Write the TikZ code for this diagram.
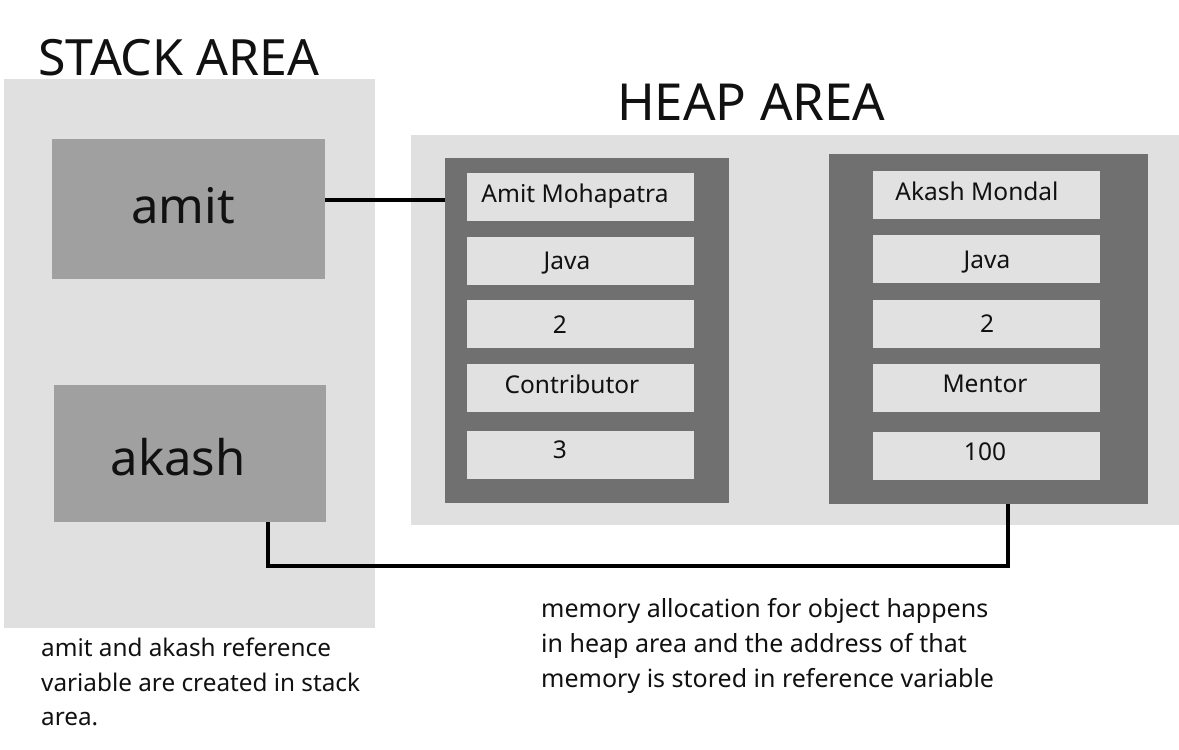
\documentclass[tikz,border=0pt]{standalone}
\usepackage{fontspec}
\setmainfont{Noto Sans}
\definecolor{areabg}{HTML}{E0E0E0}
\definecolor{varbox}{HTML}{A0A0A0}
\definecolor{objbox}{HTML}{707070}
\definecolor{fieldbg}{HTML}{E1E1E1}
\definecolor{ink}{HTML}{111111}
\begin{document}
\begin{tikzpicture}[x=1pt,y=-1pt,
  area/.style={fill=areabg,draw=none,anchor=north west,inner sep=0pt},
  var/.style={fill=varbox,draw=none,anchor=north west,inner sep=0pt},
  obj/.style={fill=objbox,draw=none,anchor=north west,inner sep=0pt},
  field/.style={fill=fieldbg,draw=none,anchor=north west,inner sep=0pt,minimum width=227pt,minimum height=48pt},
  title/.style={anchor=base west,inner sep=0pt,text=ink},
  varlabel/.style={anchor=base,inner sep=0pt,text=ink,font=\fontsize{49}{58}\selectfont},
  flabel/.style={anchor=base,inner sep=0pt,text=ink,font=\fontsize{24.5}{29}\selectfont},
  note/.style={anchor=base west,inner sep=0pt,text=ink},
  conn/.style={draw=black,line width=4pt}]
\useasboundingbox[fill=white] (0,0) rectangle (1179,750);
% areas
\node[area,minimum width=371pt,minimum height=549pt] (stack) at (4,79) {};
\node[area,minimum width=768pt,minimum height=390pt] (heap) at (411,135) {};
\node[title,font=\fontsize{50}{58}\selectfont] (stacktitle) at (38,75) {STACK AREA};
\node[title,font=\fontsize{51}{58}\selectfont] (heaptitle) at (617,120) {HEAP AREA};
% reference variables
\node[var,minimum width=273pt,minimum height=140pt] (amit) at (52,139) {};
\node[var,minimum width=272pt,minimum height=137pt] (akash) at (54,385) {};
\node[varlabel] (amitlbl) at (183,223) {amit};
\node[varlabel] (akashlbl) at (178,475) {akash};
% object 1
\node[obj,minimum width=284pt,minimum height=345pt] (obja) at (445,158) {};
\node[field] (a1) at (467,173) {};
\node[field] (a2) at (467,237) {};
\node[field] (a3) at (467,300) {};
\node[field] (a4) at (467,364) {};
\node[field] (a5) at (467,431) {};
\node[flabel] (a1t) at (575,202) {Amit Mohapatra};
\node[flabel] (a2t) at (567,269) {Java};
\node[flabel] (a3t) at (560,333) {2};
\node[flabel] (a4t) at (572,393) {Contributor};
\node[flabel] (a5t) at (560,458) {3};
% object 2
\node[obj,minimum width=319pt,minimum height=350pt] (objb) at (829,154) {};
\node[field] (b1) at (873,171) {};
\node[field] (b2) at (873,235) {};
\node[field] (b3) at (873,300) {};
\node[field] (b4) at (873,364) {};
\node[field] (b5) at (873,432) {};
\node[flabel] (b1t) at (977,200) {Akash Mondal};
\node[flabel] (b2t) at (987,268) {Java};
\node[flabel] (b3t) at (987,332) {2};
\node[flabel] (b4t) at (985,392) {Mentor};
\node[flabel] (b5t) at (985,460) {100};
% connectors
\draw[conn] ([yshift=9pt]amit.east) -- ([yshift=9pt]amit.east -| obja.west);
\coordinate (k1) at (268,566);
\coordinate (k2) at (1008,566);
\draw[conn,line join=miter] (akash.south -| k1) -- (k1) -- (k2) -- (objb.south -| k2);
% notes
\node[note,font=\fontsize{25}{30}\selectfont] (n1) at (541,617) {memory allocation for object happens};
\node[note,font=\fontsize{25}{30}\selectfont] (n2) at (541,652) {in heap area and the address of that};
\node[note,font=\fontsize{25}{30}\selectfont] (n3) at (541,687) {memory is stored in reference variable};
\node[note,font=\fontsize{24.3}{29}\selectfont] (m1) at (41,656) {amit and akash reference};
\node[note,font=\fontsize{24.3}{29}\selectfont] (m2) at (41,691) {variable are created in stack};
\node[note,font=\fontsize{24.3}{29}\selectfont] (m3) at (41,725) {area.};
\end{tikzpicture}
\end{document}
